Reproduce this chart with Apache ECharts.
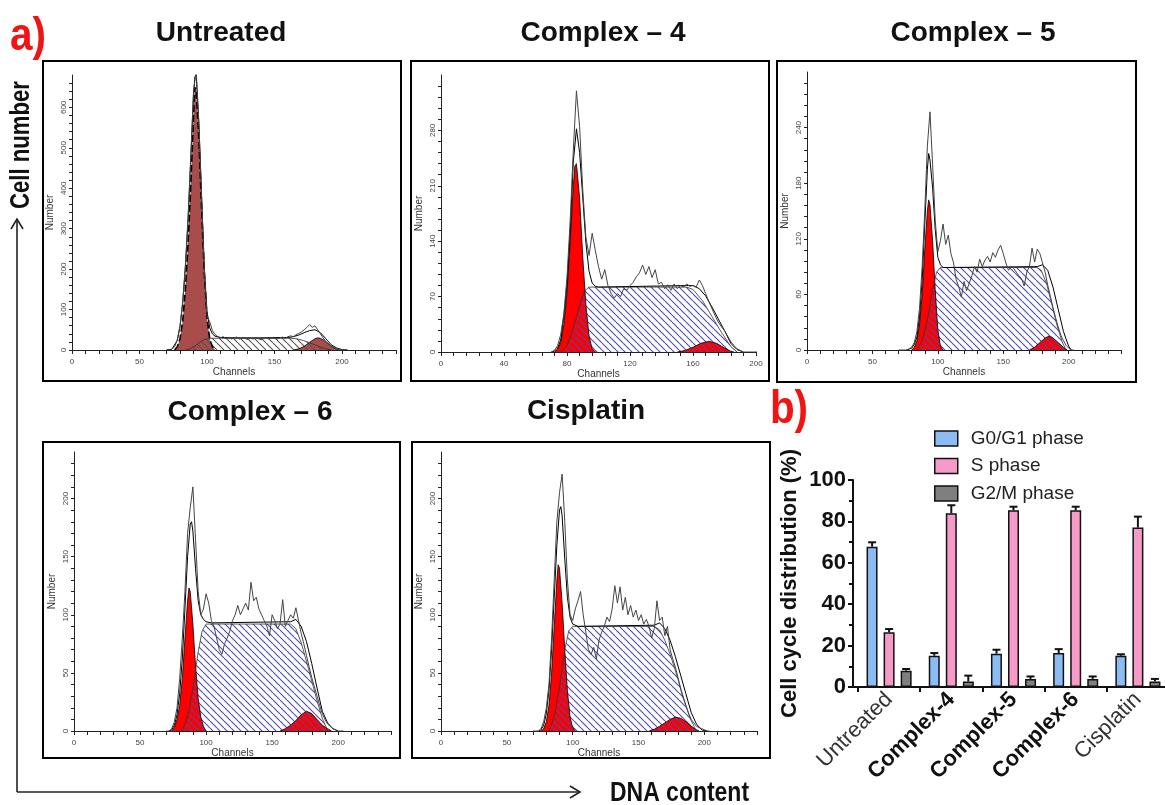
<!DOCTYPE html>
<html><head><meta charset="utf-8">
<script src="https://cdn.jsdelivr.net/npm/echarts@6/dist/echarts.min.js"></script>
<style>html,body{margin:0;padding:0;background:#fff}#c{width:1165px;height:805px}</style>
</head><body><div id="c"></div>
<script>
// ---------------- DATA ----------------
// histogram bins (channel) shared by the raw traces
const rawChannels = [70,72,74,76,78,80,82,84,86,88,90,92,94,96,98,100,102,104,106,108,110,112,114,116,118,120,122,124,126,128,130,132,134,136,138,140,142,144,146,148,150,152,154,156,158,160,162,164,166,168,170,172,174,176,178,180,182,184,186,188,190,192,194,196,198,200,202,204];

// Untreated
const untreatedRaw = [0,0,2,8,25,60,120,210,330,480, 640,690,560,380,200,85,70,48,38,33, 30,33,28,31,27,30,32,27,30,29, 26,31,27,30,28,25,29,31,27,30, 29,27,30,32,29,33,35,33,38,41, 45,50,56,63,56,60,50,40,30,21, 14,9,5,3,2,1,0,0];
const untreatedFit = [[70,0],[74,2],[78,24],[80,58],[82,115],[84,205],[86,325],[88,475],[90,630],[91,675],[92,680],[94,560],[96,380],[98,205],[100,95],[102,55],[104,40],[106,34],[110,31],[120,30],[140,30],[160,31],[164,33],[168,37],[172,43],[176,48],[180,50],[184,43],[188,28],[192,13],[196,5],[200,1],[204,0]];
const untreatedG1 = [[76,0],[78,8],[80,28],[82,72],[84,150],[86,265],[88,410],[90,575],[91,650],[92,640],[94,520],[96,350],[98,190],[100,80],[102,28],[104,8],[106,0]];
const untreatedS = [[84,0],[88,4],[92,12],[96,22],[99,27],[102,29],[162,29],[166,28],[170,25],[176,18],[182,10],[188,3],[192,0]];
const untreatedG2 = [[164,0],[168,3],[172,9],[176,19],[180,28],[182,30],[184,29],[188,21],[192,10],[196,2],[198,0]];

// Complex - 4
const c4Raw = [0,2,8,22,48,95,165,255,330,285, 205,145,122,150,128,108,92,104,84,74, 68,74,70,80,78,84,88,95,100,110, 98,108,94,104,86,88,80,85,78,86, 80,84,82,86,83,84,82,91,84,74, 64,55,46,38,32,27,20,13,8,4, 2,0,0,0,0,0,0,0];
const c4Fit = [[70,0],[72,1],[74,5],[76,15],[78,45],[80,85],[82,150],[84,240],[86,282],[88,252],[90,195],[92,138],[94,102],[96,87],[98,83],[100,82],[156,84],[160,84],[164,80],[168,71],[172,57],[176,42],[180,27],[184,11],[188,3],[192,0]];
const c4G1 = [[72,0],[74,3],[76,12],[78,35],[80,75],[82,140],[84,210],[85,235],[86,238],[88,195],[90,120],[92,60],[94,20],[96,4],[98,0]];
const c4S = [[76,0],[80,8],[84,30],[88,58],[91,77],[94,82],[156,82],[160,79],[166,65],[172,45],[178,25],[184,7],[188,0]];
const c4G2 = [[150,0],[155,2],[160,6],[165,11],[170,13.5],[175,11],[180,5],[184,1],[186,0]];

// Complex - 5
const c5Raw = [0,0,0,0,1,3,8,20,45,90, 150,220,257,200,140,106,118,136,114,124, 104,94,76,68,57,74,64,72,80,90, 84,98,90,97,101,95,105,100,108,113, 104,94,86,90,88,84,80,77,69,84, 90,110,95,109,104,94,84,70,58,46, 35,25,16,10,5,2,0,0];
const c5Fit = [[76,0],[78,1],[80,2],[82,6],[84,14],[86,36],[88,75],[90,135],[92,195],[93,212],[94,205],[96,175],[98,130],[100,100],[102,92],[104,89],[176,90],[180,92],[184,86],[188,68],[192,44],[196,20],[200,4],[202,0]];
const c5G1 = [[80,0],[82,3],[84,10],[86,28],[88,60],[90,108],[92,150],[93,162],[94,157],[96,118],[98,65],[100,22],[102,4],[104,0]];
const c5S = [[84,0],[88,10],[92,32],[96,65],[99,84],[102,89],[176,89],[179,86],[183,72],[187,50],[191,27],[195,9],[198,0]];
const c5G2 = [[170,0],[174,3],[178,8],[182,13],[185,15],[188,13],[192,8],[196,3],[199,0]];

// Complex - 6
const c6Raw = [0,0,2,8,20,45,80,120,170,192, 210,165,120,100,105,118,110,95,90,80, 70,66,75,80,86,95,100,108,100,105, 110,104,128,112,115,105,100,95,90,82, 100,95,88,92,113,90,95,100,97,106, 95,84,75,65,55,46,38,30,22,15, 10,6,4,2,1,0,0,0];
const c6Fit = [[72,0],[74,1],[76,5],[78,14],[80,32],[82,62],[84,105],[86,150],[88,178],[89,180],[90,172],[92,140],[94,112],[96,100],[98,96],[100,94],[104,93],[164,94],[168,96],[172,90],[176,77],[180,58],[184,37],[188,17],[192,7],[196,2],[200,0]];
const c6G1 = [[74,0],[76,3],[78,10],[80,22],[82,45],[84,80],[86,112],[87,123],[88,120],[90,92],[92,56],[94,28],[96,12],[98,4],[100,0]];
const c6S = [[82,0],[86,12],[90,36],[94,68],[97,86],[100,92],[164,92],[168,88],[172,76],[176,60],[180,43],[184,26],[188,11],[192,0]];
const c6G2 = [[156,0],[160,2],[164,5],[168,9],[172,14],[176,17],[180,15],[184,10],[188,5],[192,2],[195,0]];

// Cisplatin
const cisRaw = [0,0,0,2,8,20,40,80,130,180, 205,221,180,130,100,95,105,112,120,100, 85,70,66,72,62,78,85,90,98,94, 105,125,110,124,104,115,100,108,98,104, 95,100,92,96,90,80,88,112,95,98, 82,90,70,62,55,46,36,28,22,15, 10,7,4,3,2,1,0,0];
const cisFit = [[74,0],[76,1],[78,5],[80,15],[82,35],[84,70],[86,115],[88,160],[90,190],[91,193],[92,185],[94,148],[96,115],[98,98],[100,92],[104,90],[162,91],[166,93],[170,88],[174,78],[178,64],[182,48],[186,32],[190,16],[194,6],[198,1],[202,0]];
const cisG1 = [[76,0],[78,2],[80,8],[82,22],[84,50],[86,90],[88,130],[89,143],[90,140],[92,110],[94,70],[96,35],[98,12],[100,3],[102,0]];
const cisS = [[82,0],[86,12],[90,38],[94,70],[97,86],[100,90],[162,90],[166,87],[170,78],[174,66],[178,52],[182,37],[186,22],[190,9],[194,0]];
const cisG2 = [[158,0],[162,1.5],[166,4],[170,7],[174,10],[178,12],[182,11],[186,8],[190,4],[194,1],[196,0]];

// Bar chart (b)
const barCategories = ['Untreated','Complex-4','Complex-5','Complex-6','Cisplatin'];
const phaseNames = ['G0/G1 phase','S phase','G2/M phase'];
const g0g1Values = [67.8, 15.1, 16.1, 16.4, 15.1];
const g0g1Sd     = [2.1, 1.3, 1.9, 1.9, 0.7];
const sPhaseValues = [26.4, 83.9, 85.4, 85.4, 77.0];
const sPhaseSd     = [1.6, 3.9, 1.7, 1.7, 5.3];
const g2mValues = [7.9, 2.7, 3.9, 3.9, 2.7];
const g2mSd     = [0.8, 2.8, 1.2, 1.2, 1.2];

// ---------------- CHART ----------------
const FONT = "'Liberation Sans', Arial, Helvetica, sans-serif";

function hatch(color) {
  const c = document.createElement('canvas');
  c.width = 7; c.height = 7;
  const g = c.getContext('2d');
  g.strokeStyle = color; g.lineWidth = 1.1;
  g.beginPath();
  [-7, 0, 7].forEach(k => { g.moveTo(k, 0); g.lineTo(k + 7, 7); });
  g.stroke();
  return c;
}

const panels = [
  {raw: untreatedRaw, fit: untreatedFit, g1: untreatedG1, s: untreatedS, g2: untreatedG2,
   xMax: 240, xStep: 10, xLab: 50, yMax: 680, yStep: 20, yLab: 100,
   grid: {left: 72, top: 75, width: 324, height: 275}, peak: '#a84c4c', hatchColor: '#555', dashed: true},
  {raw: c4Raw, fit: c4Fit, g1: c4G1, s: c4S, g2: c4G2,
   xMax: 200, xStep: 8, xLab: 40, yMax: 350, yStep: 14, yLab: 70,
   grid: {left: 441, top: 75, width: 315, height: 277}, peak: '#ff0000', hatchColor: '#4a4ab4'},
  {raw: c5Raw, fit: c5Fit, g1: c5G1, s: c5S, g2: c5G2,
   xMax: 240, xStep: 10, xLab: 50, yMax: 300, yStep: 12, yLab: 60,
   grid: {left: 807, top: 72, width: 314, height: 278}, peak: '#ff0000', hatchColor: '#4a4ab4'},
  {raw: c6Raw, fit: c6Fit, g1: c6G1, s: c6S, g2: c6G2,
   xMax: 240, xStep: 10, xLab: 50, yMax: 240, yStep: 10, yLab: 50,
   grid: {left: 74, top: 452, width: 317, height: 279}, peak: '#ff0000', hatchColor: '#4a4ab4'},
  {raw: cisRaw, fit: cisFit, g1: cisG1, s: cisS, g2: cisG2,
   xMax: 240, xStep: 10, xLab: 50, yMax: 240, yStep: 10, yLab: 50,
   grid: {left: 441, top: 452, width: 316, height: 279}, peak: '#ff0000', hatchColor: '#4a4ab4'}
];

const grids = [], xAxes = [], yAxes = [], series = [];
panels.forEach((p, i) => {
  grids.push(Object.assign({outerBoundsMode: 'none', containLabel: false}, p.grid));
  xAxes.push({
    gridIndex: i, type: 'value', min: 0, max: p.xMax, interval: p.xStep,
    name: 'Channels', nameLocation: 'middle', nameGap: 15,
    nameTextStyle: {fontSize: 10, color: '#333', fontFamily: FONT},
    axisLine: {show: true, onZero: false, lineStyle: {color: '#222', width: 1}},
    axisTick: {show: true, length: 4, lineStyle: {color: '#222', width: 1}},
    axisLabel: {fontSize: 8, color: '#444', margin: 8, fontFamily: FONT,
      formatter: v => (v % p.xLab === 0 ? String(v) : '')},
    splitLine: {show: false}
  });
  yAxes.push({
    gridIndex: i, type: 'value', min: 0, max: p.yMax, interval: p.yStep,
    name: 'Number', nameLocation: 'middle', nameGap: 17, nameRotate: 90,
    nameTextStyle: {fontSize: 10, color: '#333', fontFamily: FONT},
    axisLine: {show: true, lineStyle: {color: '#222', width: 1}},
    axisTick: {show: true, length: 3, lineStyle: {color: '#222', width: 1}},
    axisLabel: {fontSize: 8, color: '#444', margin: 4, rotate: 90, fontFamily: FONT, showMaxLabel: false,
      formatter: v => (v % p.yLab === 0 && v !== p.yMax ? String(v) : '')},
    splitLine: {show: false}
  });
  const base = {type: 'line', xAxisIndex: i, yAxisIndex: i, symbol: 'none', showSymbol: false, silent: true, smooth: false};
  series.push(Object.assign({}, base, {
    data: p.g1,
    lineStyle: {color: '#000', width: p.dashed ? 1.6 : 0.8, type: p.dashed ? [7, 3] : 'solid'},
    areaStyle: {color: p.peak, opacity: 1}
  }));
  series.push(Object.assign({}, base, {
    data: p.g2,
    lineStyle: {color: '#000', width: 0.8},
    areaStyle: {color: p.peak, opacity: 1}
  }));
  series.push(Object.assign({}, base, {
    data: p.s,
    lineStyle: {color: '#333', width: 0.8},
    areaStyle: {color: {image: hatch(p.hatchColor), repeat: 'repeat'}, opacity: 1}
  }));
  series.push(Object.assign({}, base, {
    data: p.fit, lineStyle: {color: '#000', width: 1}
  }));
  series.push(Object.assign({}, base, {
    data: rawChannels.map((c, k) => [c, p.raw[k]]), lineStyle: {color: '#444', width: 1}
  }));
});

// ---- bar chart grid (index 5) ----
const BI = 5;
grids.push({left: 858, top: 480, width: 311, height: 207, outerBoundsMode: 'none', containLabel: false});
const boldCats = new Set(['Complex-4', 'Complex-5', 'Complex-6']);
xAxes.push({
  gridIndex: BI, type: 'category', data: barCategories,
  axisLine: {show: true, lineStyle: {color: '#111', width: 2}},
  axisTick: {show: true, length: 5, lineStyle: {color: '#111', width: 2}},
  axisLabel: {rotate: 45, margin: 9, interval: 0,
    formatter: v => (boldCats.has(v) ? '{b|' + v + '}' : '{n|' + v + '}'),
    rich: {
      b: {fontSize: 22, fontWeight: 'bold', color: '#111', fontFamily: FONT},
      n: {fontSize: 22, fontWeight: 'normal', color: '#333', fontFamily: FONT}
    }
  }
});
yAxes.push({
  gridIndex: BI, type: 'value', min: 0, max: 100, interval: 20, offset: 5,
  name: 'Cell cycle distribution (%)', nameLocation: 'middle', nameGap: 52, nameRotate: 90,
  nameTextStyle: {fontSize: 22, fontWeight: 'bold', color: '#111', fontFamily: FONT},
  axisLine: {show: true, lineStyle: {color: '#111', width: 2}},
  axisTick: {show: true, length: 5, lineStyle: {color: '#111', width: 2}},
  minorTick: {show: true, splitNumber: 2, length: 4, lineStyle: {color: '#111', width: 2}},
  axisLabel: {fontSize: 22, fontWeight: 'bold', color: '#111', margin: 7, fontFamily: FONT},
  splitLine: {show: false}, minorSplitLine: {show: false}
});
const barColors = ['#8cbcf4', '#f59ac9', '#7f7f7f'];
const barVals = [g0g1Values, sPhaseValues, g2mValues];
const barSds = [g0g1Sd, sPhaseSd, g2mSd];
const barOffsets = [-17, 0, 17];
phaseNames.forEach((name, j) => {
  series.push({
    type: 'bar', name, xAxisIndex: BI, yAxisIndex: BI, data: barVals[j],
    barWidth: 11, barGap: '55%',
    itemStyle: {color: barColors[j], borderColor: '#111', borderWidth: 1.5, borderRadius: 0}
  });
});
phaseNames.forEach((name, j) => {
  series.push({
    type: 'custom', name: name + ' err', xAxisIndex: BI, yAxisIndex: BI, z: 5, silent: true,
    data: barVals[j].map((v, k) => [k, v, v + barSds[j][k]]),
    renderItem: (params, api) => {
      const b = api.coord([api.value(0), api.value(1)]);
      const t = api.coord([api.value(0), api.value(2)]);
      const x = b[0] + barOffsets[j];
      return {type: 'group', children: [
        {type: 'line', shape: {x1: x, y1: b[1], x2: x, y2: t[1]}, style: {stroke: '#111', lineWidth: 2}},
        {type: 'line', shape: {x1: x - 4, y1: t[1], x2: x + 4, y2: t[1]}, style: {stroke: '#111', lineWidth: 2}}
      ]};
    }
  });
});

// ---- decorations ----
function txt(text, x, y, size, opts) {
  opts = opts || {};
  return {type: 'text', x, y, rotation: opts.rotation || 0, scaleX: opts.scaleX || 1, z: 50,
    style: {text, fontSize: size, fontWeight: opts.weight || 'bold', fontFamily: FONT,
      fill: opts.color || '#111', textAlign: opts.align || 'center', textVerticalAlign: 'middle',
      align: opts.align || 'center', verticalAlign: 'middle'}};
}
function box(x, y, w, h) {
  return {type: 'rect', shape: {x, y, width: w, height: h}, z: 40,
    style: {fill: 'none', stroke: '#000', lineWidth: 2}};
}
function poly(points) {
  return {type: 'polyline', shape: {points}, z: 40, style: {stroke: '#222', lineWidth: 1.6, fill: 'none'}};
}
const graphics = [
  box(43, 61, 358, 320), box(411, 61, 358, 320), box(777, 61, 359, 321),
  box(43, 442, 357, 316), box(412, 442, 358, 316),
  txt('Untreated', 221, 33, 28), txt('Complex – 4', 603, 33, 28), txt('Complex – 5', 973, 33, 28),
  txt('Complex – 6', 250, 412, 28), txt('Cisplatin', 586, 411, 28),
  txt('a)', 28, 37, 46, {color: '#f01414', scaleX: 0.88}),
  txt('b)', 789, 410, 46, {color: '#f01414', scaleX: 0.88}),
  txt('Cell number', 22, 145, 27, {rotation: Math.PI / 2, scaleX: 0.82}),
  txt('DNA content', 610, 793, 28, {align: 'left', scaleX: 0.82}),
  poly([[17, 792], [17, 219]]), poly([[11, 229], [17, 219], [23, 229]]),
  poly([[17, 792], [580, 792]]), poly([[570, 786], [580, 792], [570, 798]]),
  {type: 'line', shape: {x1: 852, y1: 687, x2: 859, y2: 687}, z: 40, style: {stroke: '#111', lineWidth: 2}}
];

const chart = echarts.init(document.getElementById('c'), null, {renderer: 'canvas'});
chart.setOption({
  animation: false,
  backgroundColor: '#fff',
  textStyle: {fontFamily: FONT},
  grid: grids, xAxis: xAxes, yAxis: yAxes, series,
  legend: {
    data: phaseNames.map(n => ({name: n, icon: 'rect'})), icon: 'rect',
    orient: 'vertical', left: 934, top: 429,
    itemWidth: 23, itemHeight: 15, itemGap: 8.5, padding: 0,
    itemStyle: {borderColor: '#111', borderWidth: 1.5},
    textStyle: {fontSize: 19, color: '#222', fontFamily: FONT, padding: [0, 0, 0, 8]},
    selectedMode: false
  },
  graphic: graphics
});
</script></body></html>
